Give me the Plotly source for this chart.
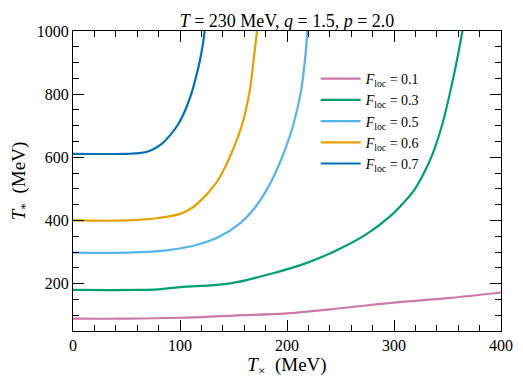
import plotly.graph_objects as go

# curves, T_x (MeV) -> T_* (MeV)
x_f01 = [0, 50, 100, 150, 200, 250, 300, 350, 400]
y_f01 = [89, 89, 92, 99, 106, 122, 140, 154, 172]

x_f03 = [0, 60, 80, 100, 147, 187, 218, 246, 274, 296, 310, 320, 328, 336, 345, 356, 364]
y_f03 = [180, 180, 182, 189, 201, 233, 265, 305, 356, 412, 460, 502, 550, 610, 703, 861, 1000]

x_f05 = [0, 50, 91, 116, 137, 156, 168.5, 181, 190.4, 198, 205.9, 213, 217, 219]
y_f05 = [298, 298, 307, 323, 349, 391, 434, 497, 560, 623, 703, 808, 914, 1000]

x_f06 = [0, 50, 78, 100, 110, 119, 127, 135, 142, 148, 158, 165, 169, 172]
y_f06 = [400, 400, 407, 421, 437, 462, 490, 525, 568, 612, 703, 808, 914, 1000]

x_f07 = [0, 50, 62, 72, 82, 91, 98, 105, 110.5, 115, 118.5, 121, 123]
y_f07 = [611, 611, 613, 621, 640, 671, 703, 750, 800, 855, 905, 950, 1000]

series = [
    ("0.1", x_f01, y_f01, "#CC79A7"),
    ("0.3", x_f03, y_f03, "#009E73"),
    ("0.5", x_f05, y_f05, "#56B4E9"),
    ("0.6", x_f06, y_f06, "#E69F00"),
    ("0.7", x_f07, y_f07, "#0072B2"),
]

fig = go.Figure()
for lab, xs, ys, col in series:
    fig.add_trace(go.Scatter(
        x=xs, y=ys, mode="lines",
        line=dict(color=col, width=2.2, shape="spline", smoothing=1.0),
        name=f"<i>F</i><sub>loc</sub> = {lab}",
    ))

font = "Liberation Serif"
axis_common = dict(
    showline=True, linecolor="black", linewidth=1.2, mirror="allticks",
    ticks="inside", ticklen=11, tickwidth=1.2, tickcolor="black",
    showgrid=False, zeroline=False, automargin=False,
    tickfont=dict(family=font, size=16, color="black"),
)

fig.update_xaxes(
    range=[0, 400], dtick=100,
    minor=dict(ticks="inside", ticklen=6, tickwidth=1, tickcolor="black", dtick=20),
    title=dict(text="<i>T</i><sub>×</sub>  (MeV)", font=dict(family=font, size=19, color="black"), standoff=1),
    **axis_common,
)
fig.update_yaxes(
    range=[50, 1000], tickvals=[200, 400, 600, 800, 1000],
    minor=dict(ticks="inside", ticklen=6, tickwidth=1, tickcolor="black",
               tickvals=[100, 150, 250, 300, 350, 450, 500, 550, 650, 700, 750, 850, 900, 950]),
    title=dict(text="<i>T</i><sub>*</sub>  (MeV)", font=dict(family=font, size=19, color="black"), standoff=8),
    **axis_common,
)

# the page body has an 8px margin, so the figure is 8px smaller and shifted
fig.update_layout(
    width=515, height=377,
    margin=dict(l=65, r=22, t=23, b=54),
    paper_bgcolor="white", plot_bgcolor="white",
    title=dict(text="<i>T</i> = 230 MeV, <i>q</i> = 1.5, <i>p</i> = 2.0",
               x=0.5, xref="paper", xanchor="center",
               y=0.966, yref="container", yanchor="middle",
               font=dict(family=font, size=18, color="black")),
    legend=dict(x=0.567, y=0.893, xanchor="left", yanchor="top",
                bgcolor="rgba(255,255,255,0)", borderwidth=0,
                font=dict(family=font, size=14, color="black"),
                tracegroupgap=0, itemwidth=40),
    showlegend=True,
)

fig.write_html("out.html")
